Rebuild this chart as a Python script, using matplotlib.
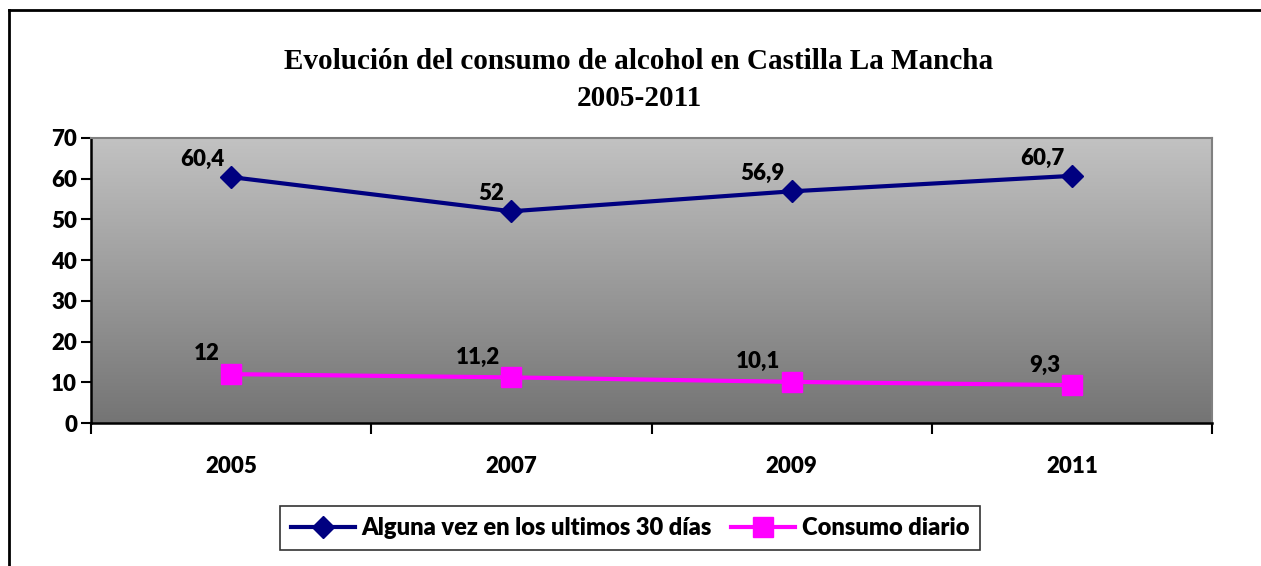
import matplotlib.pyplot as plt
import numpy as np
from matplotlib.lines import Line2D
from matplotlib.colors import LinearSegmentedColormap

years = ['2005', '2007', '2009', '2011']
alguna_vez = [60.4, 52, 56.9, 60.7]
diario = [12, 11.2, 10.1, 9.3]
yticks = [0, 10, 20, 30, 40, 50, 60, 70]

title = 'Evolución del consumo de alcohol en Castilla La Mancha\n2005-2011'
lbl_alguna = 'Alguna vez en los ultimos 30 días'
lbl_diario = 'Consumo diario'

plt.rcParams['font.family'] = ['Lato', 'DejaVu Sans']
W = 'heavy'
plt.rcParams['font.weight'] = W
FS = 16

fig = plt.figure(figsize=(12.61, 5.66), dpi=100)
ax = fig.add_axes([91/1261, 1-423/566, 1121/1261, 285/566])

# gradient background
grad = np.linspace(0, 1, 256).reshape(-1, 1)
ax.imshow(grad, cmap=LinearSegmentedColormap.from_list('g', ['#c2c2c2', '#747474']),
          extent=[0, 1, 0, 1], transform=ax.transAxes, aspect='auto', zorder=0)

x = np.arange(len(years))
ax.plot(x, alguna_vez, color='#000080', lw=3, marker='D', ms=11, zorder=3, clip_on=False)
ax.plot(x, diario, color='#ff00ff', lw=3, marker='s', ms=14, zorder=3, clip_on=False)

for xi, v in zip(x, alguna_vez):
    ax.annotate(('%g' % v).replace('.', ','), (xi, v), xytext=(-5, 5), textcoords='offset points',
                ha='right', va='bottom', fontsize=FS, fontweight=W)
for xi, v in zip(x, diario):
    ax.annotate(('%g' % v).replace('.', ','), (xi, v), xytext=(-8, 7), textcoords='offset points',
                ha='right', va='bottom', fontsize=FS, fontweight=W)

ax.set_xlim(-0.5, 3.5)
ax.set_ylim(0, 70)
ax.set_yticks(yticks)
ax.set_xticks(np.arange(-0.5, 4, 1))
ax.set_xticklabels([])
ax.set_xticks(x, minor=True)
ax.set_xticklabels(years, minor=True)
ax.tick_params(axis='x', which='minor', length=0, pad=24, labelsize=FS)
ax.tick_params(axis='x', which='major', length=8, width=1.5, direction='out')
ax.tick_params(axis='y', length=7, width=1.5, direction='out', labelsize=FS, pad=3)
for lab in ax.get_yticklabels() + ax.get_xticklabels(minor=True):
    lab.set_fontweight(W)

ax.spines['left'].set_linewidth(1.8)
ax.spines['bottom'].set_linewidth(1.8)
ax.spines['top'].set_color('#808080')
ax.spines['right'].set_color('#808080')
ax.spines['top'].set_linewidth(1.5)
ax.spines['right'].set_linewidth(1.5)

fig.text(639/1261, 1-80/566, title, ha='center', va='center', fontsize=21, fontweight='bold',
         family='Liberation Serif', linespacing=1.5)

handles = [Line2D([], [], color='#000080', lw=3, marker='D', ms=11),
           Line2D([], [], color='#ff00ff', lw=3, marker='s', ms=14)]
leg = fig.legend(handles, [lbl_alguna, lbl_diario], loc='center', bbox_to_anchor=(630/1261, 1-528/566),
                 ncol=2, frameon=True, fancybox=False, edgecolor='black',
                 prop={'size': 17, 'weight': W},
                 handlelength=2.7, columnspacing=0.8, handletextpad=0.3, borderpad=0.45,
                 borderaxespad=0)
leg.get_frame().set_linewidth(1.2)

# outer frame (left and top edges visible)
fig.add_artist(Line2D([9/1261, 9/1261], [0, 1-10/566], color='black', lw=2, transform=fig.transFigure))
fig.add_artist(Line2D([9/1261, 1], [1-10/566, 1-10/566], color='black', lw=2, transform=fig.transFigure))

fig.savefig('out.png', dpi=100)
